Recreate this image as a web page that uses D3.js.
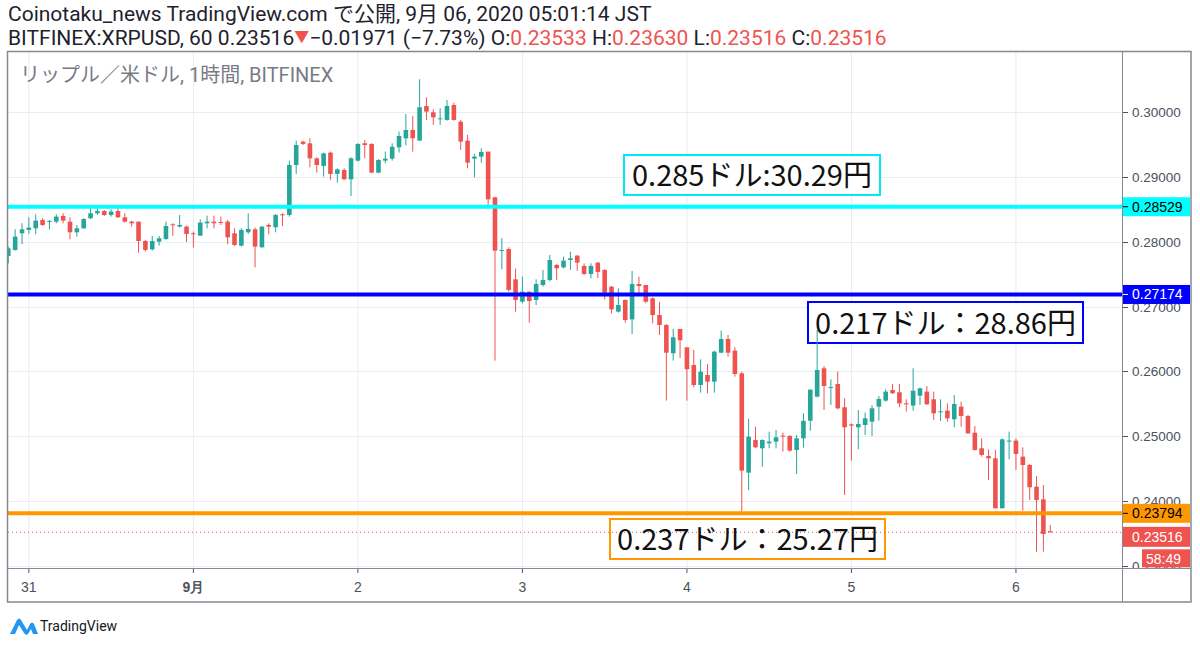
<!DOCTYPE html>
<html lang="ja">
<head>
<meta charset="UTF-8">
<title>XRPUSD 1h</title>
<script src="https://d3js.org/d3.v7.min.js"></script>
<style>
  html, body { margin: 0; padding: 0; background: #fff; }
  svg { display: block; font-family: "Roboto", "Noto Sans CJK JP", sans-serif; }
  .axis-text { font-family: "Liberation Sans", "DejaVu Sans", sans-serif; font-size: 13.5px; fill: #4c525e; }
  .note { font-family: "Noto Sans CJK JP", sans-serif; font-size: 29px; fill: #111; }
</style>
</head>
<body>
<svg id="chart" width="1200" height="647"></svg>
<script>
// hourly candles, BITFINEX:XRPUSD, first candle 2020-08-30 21:00 JST
const firstCandle = new Date(2020, 7, 30, 21);

const open = [
  0.27784,0.27877,0.28134,0.28186,0.28211,0.28340,0.28309,0.28314,0.28402,0.28314,
  0.28150,0.28211,0.28366,0.28443,0.28479,0.28417,0.28479,0.28381,0.28314,0.28314,
  0.28015,0.27887,0.28005,0.28046,0.28273,0.28237,0.28237,0.28134,0.28098,0.28289,
  0.28314,0.28309,0.28314,0.28134,0.27944,0.28150,0.28196,0.27918,0.28263,0.28227,
  0.28427,0.28417,0.29189,0.29550,0.29524,0.29292,0.29174,0.29380,0.29051,0.29112,
  0.28968,0.29256,0.29524,0.29514,0.29071,0.29256,0.29287,0.29462,0.29601,0.29730,
  0.29565,0.30100,0.30003,0.29900,0.29884,0.30116,0.29858,0.29565,0.29287,0.29318,
  0.29395,0.28690,0.27861,0.27891,0.27423,0.27078,0.27233,0.27104,0.27336,0.27413,
  0.27645,0.27608,0.27722,0.27789,0.27630,0.27506,0.27681,0.27568,0.27310,0.26924,
  0.27104,0.26805,0.27351,0.27336,0.27130,0.26872,0.26718,0.26281,0.26657,0.26373,
  0.26100,0.25791,0.25946,0.25843,0.26290,0.26502,0.26322,0.25972,0.24438,0.24942,
  0.24814,0.24891,0.24917,0.25009,0.25004,0.24788,0.24968,0.25240,0.25611,0.26049,
  0.25750,0.25807,0.25447,0.25184,0.25138,0.25174,0.25225,0.25457,0.25550,0.25714,
  0.25679,0.25508,0.25473,0.25627,0.25689,0.25570,0.25370,0.25395,0.25261,0.25457,
  0.25313,0.25055,0.24814,0.24695,0.24659,0.23887,0.24922,0.24932,0.24685,0.24556,
  0.24221,0.24025,0.23533
];
const high = [
  0.27928,0.28196,0.28289,0.28381,0.28427,0.28366,0.28340,0.28427,0.28443,0.28381,
  0.28263,0.28366,0.28531,0.28546,0.28494,0.28505,0.28556,0.28443,0.28330,0.28314,
  0.28031,0.28093,0.28093,0.28314,0.28289,0.28417,0.28253,0.28160,0.28350,0.28407,
  0.28407,0.28392,0.28340,0.28211,0.28211,0.28443,0.28222,0.28247,0.28289,0.28432,
  0.28443,0.29256,0.29566,0.29566,0.29601,0.29308,0.29380,0.29395,0.29138,0.29138,
  0.29308,0.29524,0.29575,0.29524,0.29277,0.29395,0.29524,0.29704,0.29977,0.29946,
  0.30512,0.30234,0.30049,0.30064,0.30193,0.30152,0.29884,0.29653,0.29359,0.29447,
  0.29395,0.28700,0.28057,0.27918,0.27588,0.27464,0.27233,0.27423,0.27568,0.27799,
  0.27660,0.27773,0.27851,0.27799,0.27670,0.27670,0.27691,0.27578,0.27320,0.27284,
  0.27114,0.27552,0.27464,0.27336,0.27145,0.27078,0.26733,0.26657,0.26657,0.26373,
  0.26332,0.26188,0.26116,0.26322,0.26631,0.26564,0.26373,0.25997,0.25267,0.25148,
  0.24952,0.25071,0.25097,0.25055,0.25019,0.25019,0.25354,0.25724,0.26641,0.26085,
  0.25879,0.25998,0.25586,0.25199,0.25405,0.25364,0.25483,0.25622,0.25725,0.25807,
  0.25807,0.25570,0.26049,0.25750,0.25776,0.25689,0.25570,0.25508,0.25637,0.25534,
  0.25328,0.25158,0.24968,0.24798,0.24788,0.24968,0.25071,0.24968,0.24829,0.24572,
  0.24386,0.24247,0.23630
];
const low = [
  0.27670,0.27866,0.27969,0.28124,0.28119,0.28247,0.28196,0.28289,0.28289,0.28041,
  0.28083,0.28201,0.28355,0.28417,0.28402,0.28392,0.28371,0.28299,0.28237,0.27835,
  0.27851,0.27866,0.27944,0.28031,0.28093,0.28227,0.28000,0.27913,0.28093,0.28211,
  0.28211,0.28263,0.27964,0.27938,0.27928,0.28124,0.27608,0.27913,0.28119,0.28150,
  0.28247,0.28391,0.29051,0.29498,0.29153,0.29071,0.29009,0.28958,0.28917,0.28958,
  0.28710,0.29241,0.29292,0.29061,0.29061,0.29215,0.29256,0.29380,0.29493,0.29395,
  0.29565,0.29884,0.29807,0.29807,0.29874,0.29874,0.29421,0.29138,0.28999,0.29225,
  0.28520,0.26167,0.27578,0.27233,0.26924,0.27053,0.26754,0.27027,0.27310,0.27392,
  0.27413,0.27593,0.27568,0.27557,0.27490,0.27439,0.27439,0.27114,0.26898,0.26909,
  0.26754,0.26579,0.27181,0.27053,0.26744,0.26564,0.25550,0.26168,0.26208,0.25550,
  0.25756,0.25673,0.25663,0.25673,0.26281,0.26229,0.25920,0.23835,0.24166,0.24814,
  0.24530,0.24814,0.24814,0.24762,0.24762,0.24417,0.24824,0.25086,0.25601,0.25405,
  0.25483,0.25416,0.24093,0.24623,0.24798,0.25019,0.25004,0.25241,0.25534,0.25653,
  0.25447,0.25380,0.25395,0.25483,0.25483,0.25251,0.25236,0.25225,0.25138,0.25148,
  0.25035,0.24778,0.24685,0.24324,0.23887,0.23887,0.24644,0.24479,0.23851,0.24015,
  0.23217,0.23217,0.23516
];
const close = [
  0.27902,0.28083,0.28196,0.28222,0.28330,0.28263,0.28325,0.28392,0.28330,0.28150,
  0.28211,0.28355,0.28443,0.28479,0.28417,0.28469,0.28381,0.28314,0.28289,0.28015,
  0.27877,0.28015,0.28057,0.28247,0.28263,0.28263,0.28124,0.28124,0.28299,0.28314,
  0.28289,0.28299,0.28072,0.27954,0.28186,0.28201,0.27928,0.28237,0.28237,0.28417,
  0.28417,0.29189,0.29498,0.29514,0.29292,0.29189,0.29369,0.29051,0.29122,0.28968,
  0.29292,0.29514,0.29498,0.29071,0.29266,0.29287,0.29472,0.29637,0.29730,0.29601,
  0.30080,0.30013,0.29925,0.29910,0.30100,0.29884,0.29550,0.29225,0.29318,0.29390,
  0.28659,0.27866,0.27876,0.27259,0.27104,0.27233,0.27088,0.27351,0.27413,0.27722,
  0.27593,0.27712,0.27748,0.27681,0.27506,0.27630,0.27537,0.27217,0.26960,0.27027,
  0.26795,0.27351,0.27320,0.27078,0.26872,0.26718,0.26290,0.26528,0.26482,0.26034,
  0.25791,0.25997,0.25843,0.26306,0.26502,0.26290,0.25961,0.24469,0.24994,0.24829,
  0.24942,0.24917,0.24984,0.24994,0.24778,0.24968,0.25238,0.25719,0.26023,0.25776,
  0.25760,0.25431,0.25138,0.25164,0.25189,0.25277,0.25431,0.25575,0.25689,0.25663,
  0.25508,0.25493,0.25704,0.25740,0.25493,0.25354,0.25385,0.25277,0.25498,0.25313,
  0.25045,0.24788,0.24711,0.24659,0.23887,0.24952,0.24932,0.24726,0.24556,0.24211,
  0.24015,0.23490,0.23516
];

// price ticks on the right scale
const priceTicks = [0.23, 0.24, 0.25, 0.26, 0.27, 0.28, 0.29, 0.30];

// horizontal levels drawn on the chart
const levels = [0.28529, 0.27174, 0.23794];
const levelColors = ["#00ffff", "#0000ff", "#ff9800"];
const levelTextColors = ["#000", "#fff", "#000"];
const lastPrice = 0.23516;
const countdown = "58:49";

// note boxes drawn on the chart
const notes = ["0.285ドル:30.29円", "0.217ドル：28.86円", "0.237ドル：25.27円"];
const noteBoxes = [
  { x: 624, y: 155, w: 256, h: 40, c: "#00e8f0" },
  { x: 808, y: 302, w: 275, h: 41, c: "#0000ff" },
  { x: 610, y: 519, w: 275, h: 40, c: "#ff9800" }
];

const candles = open.map((o, i) => ({
  t: d3.timeHour.offset(firstCandle, i),
  o, h: high[i], l: low[i], c: close[i]
}));

const svg = d3.select("#chart");
const plotL = 8, plotR = 1122, plotT = 52, plotB = 568, frameR = 1191, frameB = 602;
const upColor = "#26a69a", downColor = "#ef5350";

const x = d3.scaleTime()
  .domain([new Date(+firstCandle - 0.044 * 3600e3), new Date(+firstCandle + 162.47 * 3600e3)])
  .range([plotL, plotR]);
const y = d3.scaleLinear().domain([0.22965, 0.30934]).range([plotB, plotT]);

svg.append("rect").attr("width", 1200).attr("height", 647).attr("fill", "#fff");

// header
const head = svg.append("g").style("font-size", "21px").attr("fill", "#1e222d");
head.append("text").attr("x", 8).attr("y", 21)
  .text("Coinotaku_news TradingView.com で公開, 9月 06, 2020 05:01:14 JST");
const line2 = head.append("text").attr("x", 8).attr("y", 45);
line2.append("tspan").text("BITFINEX:XRPUSD, 60 0.23516");
line2.append("tspan").attr("fill", downColor).style("font-size", "15px").attr("dy", -3).text("▼");
line2.append("tspan").attr("dy", 3).text("−0.01971 (−7.73%) O:");
line2.append("tspan").attr("fill", downColor).text("0.23533");
line2.append("tspan").text(" H:");
line2.append("tspan").attr("fill", downColor).text("0.23630");
line2.append("tspan").text(" L:");
line2.append("tspan").attr("fill", downColor).text("0.23516");
line2.append("tspan").text(" C:");
line2.append("tspan").attr("fill", downColor).text("0.23516");

const defs = svg.append("defs");
defs.append("clipPath").attr("id", "plot")
  .append("rect").attr("x", plotL).attr("y", plotT).attr("width", plotR - plotL).attr("height", plotB - plotT);
defs.append("clipPath").attr("id", "paxis")
  .append("rect").attr("x", plotR).attr("y", plotT).attr("width", frameR - plotR).attr("height", plotB - plotT);

// grid
const days = d3.timeDay.range(d3.timeDay.ceil(x.domain()[0]), x.domain()[1]);
const grid = svg.append("g").attr("stroke", "#e6edf3").attr("stroke-width", 1);
grid.selectAll(".gx").data(days).join("line")
  .attr("x1", d => x(d)).attr("x2", d => x(d)).attr("y1", plotT).attr("y2", plotB);
grid.selectAll(".gy").data(priceTicks).join("line")
  .attr("x1", plotL).attr("x2", plotR).attr("y1", d => Math.round(y(d)) + 0.5).attr("y2", d => Math.round(y(d)) + 0.5);

svg.append("text").attr("x", 20).attr("y", 82).attr("fill", "#787b86")
  .style("font-size", "20px").text("リップル／米ドル, 1時間, BITFINEX");

// note boxes (background)
svg.append("g").selectAll("rect").data(noteBoxes).join("rect")
  .attr("x", d => d.x).attr("y", d => d.y).attr("width", d => d.w).attr("height", d => d.h)
  .attr("fill", "#fff").attr("stroke", d => d.c).attr("stroke-width", 2);

// candles
const cg = svg.append("g").attr("clip-path", "url(#plot)");
const bw = 4.6;
const col = d => d.c >= d.o ? upColor : downColor;
cg.selectAll(".wick").data(candles).join("line")
  .attr("x1", d => x(d.t)).attr("x2", d => x(d.t))
  .attr("y1", d => y(d.h)).attr("y2", d => y(d.l))
  .attr("stroke", col).attr("stroke-width", 1);
cg.selectAll(".body").data(candles).join("rect")
  .attr("x", d => x(d.t) - bw / 2).attr("width", bw)
  .attr("y", d => y(Math.max(d.o, d.c)))
  .attr("height", d => Math.max(1, Math.abs(y(d.o) - y(d.c))))
  .attr("fill", col);

// last price dotted line
svg.append("line").attr("x1", plotL).attr("x2", plotR)
  .attr("y1", y(lastPrice)).attr("y2", y(lastPrice))
  .attr("stroke", downColor).attr("stroke-width", 1).attr("stroke-dasharray", "1,3");

// level lines
svg.append("g").selectAll("line").data(levels).join("line")
  .attr("x1", plotL).attr("x2", plotR).attr("y1", d => y(d) - 1).attr("y2", d => y(d) - 1)
  .attr("stroke", (d, i) => levelColors[i]).attr("stroke-width", 4);

// note texts
svg.append("g").selectAll("text").data(notes).join("text")
  .attr("class", "note")
  .attr("x", (d, i) => noteBoxes[i].x + noteBoxes[i].w / 2)
  .attr("y", (d, i) => noteBoxes[i].y + noteBoxes[i].h - 9)
  .attr("text-anchor", "middle").text(d => d);

// frame
const frame = svg.append("g").attr("stroke", "#868993").attr("fill", "none");
frame.append("rect").attr("x", 7.5).attr("y", 51.5).attr("width", frameR - 7.5).attr("height", frameB - 51.5).attr("stroke-width", 1.5);
frame.append("line").attr("x1", plotR + 0.5).attr("x2", plotR + 0.5).attr("y1", plotT).attr("y2", frameB);
frame.append("line").attr("x1", plotL).attr("x2", frameR).attr("y1", plotB + 0.5).attr("y2", plotB + 0.5);

// price axis
const pa = svg.append("g").attr("clip-path", "url(#paxis)");
pa.selectAll("line").data(priceTicks).join("line")
  .attr("x1", plotR + 1).attr("x2", plotR + 6)
  .attr("y1", d => Math.round(y(d)) + 0.5).attr("y2", d => Math.round(y(d)) + 0.5)
  .attr("stroke", "#4c525e");
pa.selectAll("text").data(priceTicks).join("text")
  .attr("class", "axis-text").attr("x", plotR + 10).attr("y", d => y(d) + 5)
  .text(d => d.toFixed(5));

// level labels on the price axis
const lh = 19;
const lbl = svg.append("g");
levels.forEach((v, i) => {
  const cy = y(v) - 1;
  lbl.append("rect").attr("x", plotR + 1).attr("y", cy - lh / 2).attr("width", frameR - plotR - 2).attr("height", lh)
    .attr("fill", levelColors[i]);
  lbl.append("line").attr("x1", plotR + 1).attr("x2", plotR + 6).attr("y1", cy).attr("y2", cy)
    .attr("stroke", levelTextColors[i]);
  lbl.append("text").attr("class", "axis-text").style("font-size", "14px").style("fill", levelTextColors[i])
    .attr("x", plotR + 10).attr("y", cy + 5).text(v.toFixed(5));
});
const lastY = Math.max(y(lastPrice), y(levels[2]) + 22.5);
lbl.append("rect").attr("x", plotR + 1).attr("y", lastY - 10).attr("width", frameR - plotR - 2).attr("height", 20)
  .attr("fill", downColor);
lbl.append("text").attr("class", "axis-text").style("font-size", "14px").style("fill", "#fff")
  .attr("x", plotR + 10).attr("y", lastY + 5).text(lastPrice.toFixed(5));
lbl.append("rect").attr("x", plotR + 20).attr("y", lastY + 12.5).attr("width", frameR - plotR - 21).attr("height", 18)
  .attr("fill", downColor);
lbl.append("text").attr("class", "axis-text").style("font-size", "14px").style("fill", "#fff")
  .attr("x", plotR + 24).attr("y", lastY + 27).text(countdown);

// time axis
const ta = svg.append("g");
ta.selectAll("line").data(days).join("line")
  .attr("x1", d => x(d)).attr("x2", d => x(d)).attr("y1", plotB + 1).attr("y2", plotB + 5)
  .attr("stroke", "#4c525e");
ta.selectAll("text").data(days).join("text")
  .attr("class", "axis-text").style("font-size", "14px")
  .attr("x", d => x(d)).attr("y", 592).attr("text-anchor", "middle")
  .style("font-weight", d => d.getDate() === 1 ? "bold" : null)
  .text(d => d.getDate() === 1 ? (d.getMonth() + 1) + "月" : d.getDate());

// TradingView mark
const logo = svg.append("g");
logo.append("path").attr("fill", "#2196f3")
  .attr("d", "M10,634 L17,620 Q19,617 21,620 L27,630 L30,624 Q32,621 34,624 L38,634 L33,634 L31,629 L28,634 Q26,636 24,633 L19,625 L15,634 Z");
logo.append("text").attr("x", 40).attr("y", 631).attr("fill", "#131722")
  .style("font-size", "14px").style("font-family", "'Liberation Sans Narrow', 'Roboto', sans-serif").text("TradingView");
</script>
</body>
</html>
